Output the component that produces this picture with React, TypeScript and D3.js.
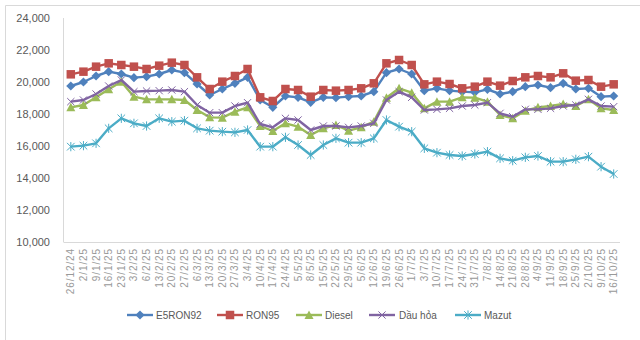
import React from "react";
import * as d3 from "d3";

const dates = [
  "26/12/24", "2/1/25", "9/1/25", "16/1/25", "23/1/25", "3/2/25", "6/2/25", "13/2/25", "20/2/25", "27/2/25",
  "6/3/25", "13/3/25", "20/3/25", "27/3/25", "3/4/25", "10/4/25", "17/4/25", "24/4/25", "5/5/25", "8/5/25",
  "15/5/25", "22/5/25", "29/5/25", "5/6/25", "12/6/25", "19/6/25", "26/6/25", "1/7/25", "3/7/25", "10/7/25",
  "17/7/25", "24/7/25", "31/7/25", "7/8/25", "14/8/25", "21/8/25", "28/8/25", "4/9/25", "11/9/25", "18/9/25",
  "25/9/25", "2/10/25", "9/10/25", "16/10/25",
];

const e5ron92 = [
  19750, 20000, 20375, 20646, 20500, 20271, 20333, 20500, 20750, 20583,
  19875, 19188, 19563, 19917, 20292, 18875, 18417, 19125, 19042, 18729,
  19042, 19021, 19083, 19125, 19396, 20583, 20813, 20500, 19458, 19604,
  19458, 19396, 19354, 19542, 19250, 19396, 19708, 19813, 19646, 19917,
  19563, 19604, 19083, 19125,
];

const ron95 = [
  20480, 20646, 20958, 21167, 21062, 20958, 20813, 21021, 21208, 21062,
  20292, 19562, 20021, 20375, 20813, 19042, 18813, 19562, 19500, 19083,
  19500, 19458, 19500, 19604, 19917, 21167, 21375, 21062, 19854, 20021,
  19875, 19604, 19708, 20021, 19771, 20063, 20292, 20375, 20292, 20542,
  20083, 20125, 19708, 19854,
];

const diesel = [
  18417, 18563, 19042, 19542, 20021, 19083, 18917, 18917, 18917, 18875,
  18250, 17792, 17771, 18146, 18417, 17250, 16938, 17417, 17208, 16688,
  17104, 17313, 16958, 17167, 17521, 19021, 19604, 19333, 18354, 18771,
  18771, 19042, 19021, 18771, 17938, 17729, 18208, 18417, 18500, 18625,
  18500, 18917, 18354, 18250,
];

const dauHoa = [
  18771, 18875, 19250, 19750, 20125, 19396, 19437, 19458, 19500, 19396,
  18563, 18083, 18083, 18500, 18708, 17375, 17167, 17729, 17625, 17000,
  17250, 17250, 17167, 17250, 17417, 18875, 19396, 19042, 18250, 18292,
  18354, 18500, 18563, 18708, 18042, 17833, 18292, 18292, 18354, 18500,
  18563, 18917, 18500, 18458,
];

const mazut = [
  15958, 16021, 16167, 17104, 17729, 17417, 17250, 17729, 17521, 17583,
  17104, 16958, 16896, 16854, 17000, 15958, 15958, 16542, 16063, 15438,
  16063, 16479, 16208, 16208, 16479, 17625, 17208, 16896, 15854, 15583,
  15438, 15375, 15500, 15646, 15229, 15083, 15292, 15375, 15021, 15021,
  15167, 15333, 14708, 14250,
];

const yTicks = [10000, 12000, 14000, 16000, 18000, 20000, 22000, 24000];

const seriesNames = ["E5RON92", "RON95", "Diesel", "Dầu hỏa", "Mazut"];

const W = 640;
const H = 340;
const FONT = "'Liberation Sans', Arial, sans-serif";

type MarkerKind = "diamond" | "square" | "triangle" | "x" | "star";

function Marker({ kind, x, y, color }: { kind: MarkerKind; x: number; y: number; color: string }) {
  if (kind === "diamond") {
    const r = 4.6;
    return <path d={`M${x},${y - r}L${x + r},${y}L${x},${y + r}L${x - r},${y}Z`} fill={color} />;
  }
  if (kind === "square") {
    const s = 8.5;
    return <rect x={x - s / 2} y={y - s / 2} width={s} height={s} fill={color} />;
  }
  if (kind === "triangle") {
    const w = 9;
    const h = 8;
    return <path d={`M${x},${y - h / 2 - 0.5}L${x + w / 2},${y + h / 2}L${x - w / 2},${y + h / 2}Z`} fill={color} />;
  }
  if (kind === "x") {
    const r = 3.6;
    return (
      <path
        d={`M${x - r},${y - r}L${x + r},${y + r}M${x - r},${y + r}L${x + r},${y - r}`}
        stroke={color}
        strokeWidth={1}
        fill="none"
      />
    );
  }
  const r = 3.8;
  return (
    <path
      d={`M${x - r},${y - r}L${x + r},${y + r}M${x - r},${y + r}L${x + r},${y - r}M${x},${y - r - 0.8}L${x},${y + r + 0.8}`}
      stroke={color}
      strokeWidth={1}
      fill="none"
    />
  );
}

export default function App() {
  const left = 63.5;
  const right = 620;
  const top = 18;
  const bottom = 242;

  const x = d3.scalePoint<string>().domain(dates).range([left + 1, right]).padding(0.5);
  const y = d3.scaleLinear().domain([10000, 24000]).range([bottom, top]);

  const series: { name: string; values: number[]; color: string; marker: MarkerKind }[] = [
    { name: seriesNames[0], values: e5ron92, color: "#4f81bd", marker: "diamond" },
    { name: seriesNames[1], values: ron95, color: "#c0504d", marker: "square" },
    { name: seriesNames[2], values: diesel, color: "#9bbb59", marker: "triangle" },
    { name: seriesNames[3], values: dauHoa, color: "#8064a2", marker: "x" },
    { name: seriesNames[4], values: mazut, color: "#4bacc6", marker: "star" },
  ];

  const line = d3
    .line<number>()
    .x((_, i) => x(dates[i]) as number)
    .y((v) => y(v));

  const fmt = d3.format(",");

  const legendItems = [
    { lx: 127, tx: 156 },
    { lx: 217, tx: 246 },
    { lx: 296, tx: 325 },
    { lx: 369, tx: 399 },
    { lx: 455, tx: 484 },
  ];
  const legendY = 315;

  return (
    <svg
      width={W}
      height={H}
      style={{ position: "absolute", left: 0, top: 0, background: "#ffffff" }}
      fontFamily={FONT}
    >
      <rect x={0} y={0} width={W} height={H} fill="#ffffff" />
      {/* chart border (top and left visible) */}
      <line x1={5.5} y1={5.5} x2={W} y2={5.5} stroke="#d9d9d9" strokeWidth={1} />
      <line x1={5.5} y1={5.5} x2={5.5} y2={H} stroke="#d9d9d9" strokeWidth={1} />

      {/* axes */}
      <line x1={left} y1={top} x2={left} y2={bottom} stroke="#d9d9d9" strokeWidth={1} />
      <line x1={left} y1={bottom + 0.5} x2={right} y2={bottom + 0.5} stroke="#d9d9d9" strokeWidth={1} />

      {yTicks.map((t) => (
        <text
          key={t}
          x={50}
          y={y(t)}
          dy="0.35em"
          textAnchor="end"
          fontSize={11}
          fill="#595959"
        >
          {fmt(t)}
        </text>
      ))}

      {dates.map((d) => (
        <text
          key={d}
          transform={`translate(${(x(d) as number) + 3.5},${bottom + 6}) rotate(-90)`}
          textAnchor="end"
          fontSize={10}
          letterSpacing={0.9}
          fill="#999999"
        >
          {d}
        </text>
      ))}

      {series.map((s) => (
        <g key={s.name}>
          <path d={line(s.values) || ""} fill="none" stroke={s.color} strokeWidth={2.4} strokeLinejoin="round" />
          {s.values.map((v, i) => (
            <Marker key={i} kind={s.marker} x={x(dates[i]) as number} y={y(v)} color={s.color} />
          ))}
        </g>
      ))}

      {series.map((s, i) => {
        const it = legendItems[i];
        return (
          <g key={"lg" + s.name}>
            <line x1={it.lx} y1={legendY} x2={it.lx + 26} y2={legendY} stroke={s.color} strokeWidth={2.4} />
            <Marker kind={s.marker} x={it.lx + 13} y={legendY} color={s.color} />
            <text x={it.tx} y={legendY} dy="0.35em" fontSize={10} fill="#595959">
              {s.name}
            </text>
          </g>
        );
      })}
    </svg>
  );
}
